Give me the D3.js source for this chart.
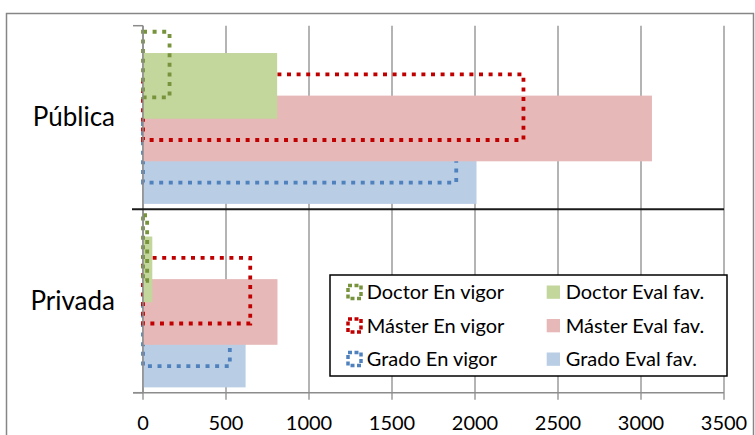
<!DOCTYPE html>
<html>
<head>
  <meta charset="utf-8">
  <title>Pública / Privada</title>
  <script src="https://d3js.org/d3.v7.min.js"></script>
  <style>
    body { margin: 0; background: #fff; }
    text { font-family: Lato, "Open Sans", sans-serif; fill: #000; }
  </style>
</head>
<body>
  <div id="chart"></div>
  <script>
    // values
    var categories = ["Pública", "Privada"];
    var doctorVigor = [160, 25];
    var doctorEval = [808, 56];
    var masterVigor = [2292, 646];
    var masterEval = [3066, 810];
    var gradoVigor = [1887, 523];
    var gradoEval = [2009, 618];
    var xTicks = [0, 500, 1000, 1500, 2000, 2500, 3000, 3500];

    var width = 755, height = 435;
    var plotTop = 25.7, plotBottom = 392.7, plotLeft = 143, plotRight = 724;

    // slot 0 sits at the top of the band, each next one 21 px lower
    var series = [
      { name: "Doctor En vigor", values: doctorVigor, color: "#77933c", dotted: true },
      { name: "Doctor Eval fav.", values: doctorEval, color: "#c3d69b", dotted: false },
      { name: "Máster En vigor", values: masterVigor, color: "#c00000", dotted: true },
      { name: "Máster Eval fav.", values: masterEval, color: "#e6b9b8", dotted: false },
      { name: "Grado En vigor", values: gradoVigor, color: "#4f81bd", dotted: true },
      { name: "Grado Eval fav.", values: gradoEval, color: "#b9cde5", dotted: false }
    ];

    var svg = d3.select("#chart").append("svg")
      .attr("width", width)
      .attr("height", height);

    // chart border
    svg.append("rect")
      .attr("x", 6.5).attr("y", 13.5)
      .attr("width", 747).attr("height", 430)
      .attr("fill", "none").attr("stroke", "#868686").attr("stroke-width", 1.5);

    var x = d3.scaleLinear().domain([0, 3500]).range([plotLeft, plotRight]);
    var y = d3.scaleBand().domain(categories).range([plotTop, plotBottom]);
    var bw = y.bandwidth();
    var padTop = bw * 0.033, step = bw * 0.116, barH = bw * 0.358;

    // gridlines (run a bit below the axis like tick marks)
    svg.append("g").selectAll("line").data(xTicks).enter().append("line")
      .attr("x1", function(d) { return x(d); })
      .attr("x2", function(d) { return x(d); })
      .attr("y1", plotTop).attr("y2", plotBottom + 7)
      .attr("stroke", "#8c8c8c").attr("stroke-width", 1.3);

    // bars, bottom slot drawn first so the upper ones sit on top
    var barLayer = svg.append("g");
    for (var s = series.length - 1; s >= 0; s--) {
      var ser = series[s];
      var g = barLayer.append("g");
      var rects = g.selectAll("rect").data(ser.values).enter().append("rect")
        .attr("x", x(0))
        .attr("y", function(d, i) { return y(categories[i]) + padTop + s * step; })
        .attr("width", function(d) { return x(d) - x(0); })
        .attr("height", barH);
      if (ser.dotted) {
        rects.attr("fill", "none")
          .attr("stroke", ser.color)
          .attr("stroke-width", 3.8)
          .attr("stroke-dasharray", "4 5.6");
      } else {
        rects.attr("fill", ser.color);
      }
    }

    // left axis
    svg.append("line")
      .attr("x1", plotLeft).attr("x2", plotLeft).attr("y1", plotTop).attr("y2", plotBottom)
      .attr("stroke", "#8c8c8c").attr("stroke-width", 1.5);
    svg.append("g").selectAll("line").data([plotTop, plotBottom]).enter().append("line")
      .attr("x1", plotLeft - 10).attr("x2", plotLeft)
      .attr("y1", function(d) { return d; }).attr("y2", function(d) { return d; })
      .attr("stroke", "#8c8c8c").attr("stroke-width", 1.5);
    // bottom axis
    svg.append("line")
      .attr("x1", plotLeft - 10).attr("x2", plotRight).attr("y1", plotBottom).attr("y2", plotBottom)
      .attr("stroke", "#8c8c8c").attr("stroke-width", 1.5);
    // dark line between the two groups
    svg.append("line")
      .attr("x1", plotLeft - 11).attr("x2", plotRight)
      .attr("y1", y(categories[1])).attr("y2", y(categories[1]))
      .attr("stroke", "#1a1a1a").attr("stroke-width", 2);

    // tick labels
    svg.append("g").selectAll("text").data(xTicks).enter().append("text")
      .attr("x", function(d) { return x(d); })
      .attr("y", 430)
      .attr("text-anchor", "middle")
      .style("font-size", "20px")
      .text(function(d) { return d; });

    // category labels
    svg.append("g").selectAll("text").data(categories).enter().append("text")
      .attr("x", 115)
      .attr("y", function(d) { return y(d) + bw / 2 + 9; })
      .attr("text-anchor", "end")
      .style("font-size", "26px")
      .text(function(d) { return d; });

    // legend
    var legend = svg.append("g");
    legend.append("rect")
      .attr("x", 330).attr("y", 275).attr("width", 397).attr("height", 101)
      .attr("fill", "#fff").attr("stroke", "#000").attr("stroke-width", 1.5);
    var rowY = [292, 325.5, 359];
    series.forEach(function(ser, i) {
      var row = Math.floor(i / 2), col = i % 2;
      var cy = rowY[row];
      if (ser.dotted) {
        legend.append("rect")
          .attr("x", 348).attr("y", cy - 6.5).attr("width", 13).attr("height", 13)
          .attr("fill", "none").attr("stroke", ser.color)
          .attr("stroke-width", 3.5).attr("stroke-dasharray", "4 2.5");
      } else {
        legend.append("rect")
          .attr("x", 546.7).attr("y", cy - 6.5).attr("width", 13.3).attr("height", 13.3)
          .attr("fill", ser.color);
      }
      legend.append("text")
        .attr("x", col == 0 ? 366.7 : 565.7)
        .attr("y", cy + 7)
        .style("font-size", "20px")
        .text(ser.name);
    });
  </script>
</body>
</html>
